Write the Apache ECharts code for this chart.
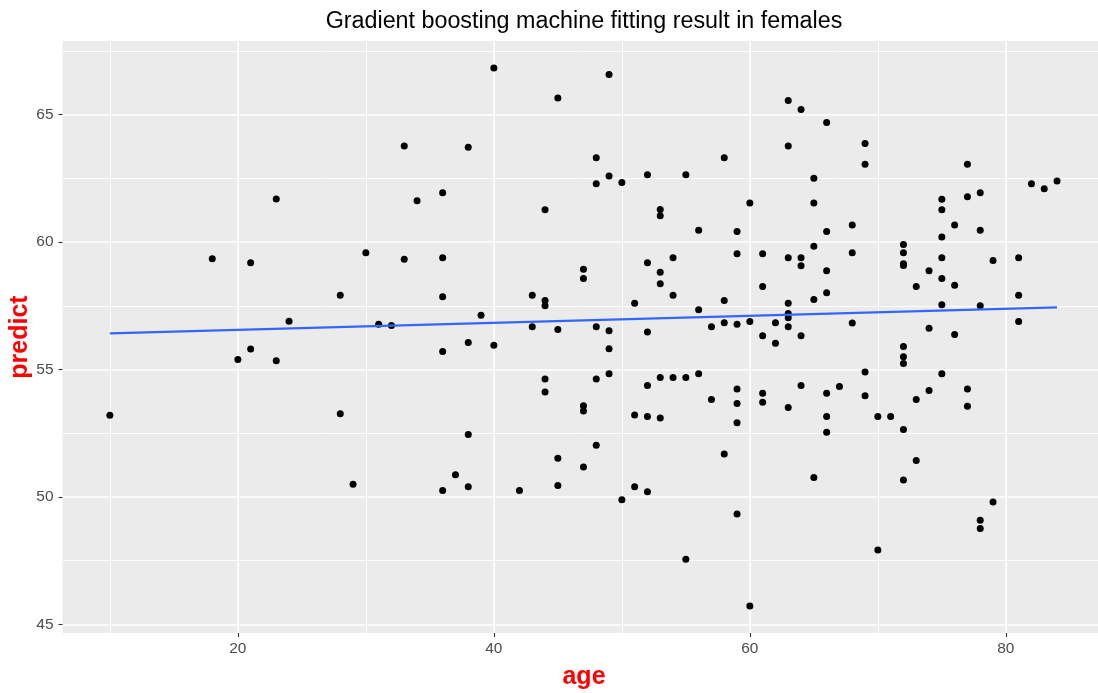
<!DOCTYPE html>
<html><head><meta charset="utf-8">
<script src="https://cdn.jsdelivr.net/npm/echarts@6/dist/echarts.min.js"></script>
<style>html,body{margin:0;padding:0;background:#fff}#c{width:1098px;height:693px}</style>
</head><body><div id="c"></div>
<script>
// Ages (x) and the predicted values observed at each age
const ageGroups = [10,18,20,21,23,24,28,29,30,31,32,33,34,36,37,38,39,40,42,43,44,45,47,48,49,50,51,52,53,54,55,56,57,58,59,60,61,62,63,64,65,66,67,68,69,70,71,72,73,74,75,76,77,78,79,81,82,83,84];
const predictGroups = [
  [53.20],
  [59.35],
  [55.39],
  [59.19, 55.80],
  [61.69, 55.34],
  [56.89],
  [57.91, 53.26],
  [50.50],
  [59.58],
  [56.78],
  [56.73],
  [63.77, 59.33],
  [61.62],
  [61.94, 59.38, 57.85, 55.71, 50.25],
  [50.87],
  [63.72, 56.06, 52.45, 50.40],
  [57.13],
  [66.83, 55.95],
  [50.25],
  [57.91, 56.68],
  [61.27, 57.71, 57.50, 54.63, 54.12],
  [65.65, 56.57, 51.52, 50.45],
  [58.93, 58.57, 53.58, 53.37, 51.17],
  [63.31, 62.29, 56.68, 54.63, 52.03],
  [66.58, 62.59, 56.52, 55.81, 54.83],
  [62.34, 49.89],
  [57.60, 53.21, 50.40],
  [62.64, 59.19, 56.47, 54.37, 53.16, 50.20],
  [61.28, 61.03, 58.82, 58.36, 54.69, 53.10],
  [59.38, 57.91, 54.69],
  [62.64, 54.69, 47.55],
  [60.46, 57.34, 54.83],
  [56.68, 53.82],
  [63.31, 57.71, 56.83, 51.68],
  [60.41, 59.54, 56.78, 54.23, 53.67, 52.91, 49.33],
  [61.53, 56.88, 45.72],
  [59.54, 58.26, 56.32, 54.07, 53.71],
  [56.83, 56.03],
  [65.56, 63.77, 59.38, 57.60, 57.20, 57.03, 56.68, 53.51],
  [65.20, 59.38, 59.07, 56.32, 54.37],
  [62.50, 61.53, 59.84, 57.75, 50.76],
  [64.69, 60.41, 58.87, 58.01, 54.07, 53.16, 52.54],
  [54.33],
  [60.67, 59.58, 56.82],
  [63.87, 63.05, 54.90, 53.97],
  [53.16, 47.92],
  [53.16],
  [59.90, 59.58, 59.15, 59.08, 55.90, 55.50, 55.24, 52.65, 50.66],
  [58.26, 53.82, 51.43],
  [58.87, 56.62, 54.18],
  [61.68, 61.27, 60.20, 59.38, 58.57, 57.54, 54.83],
  [60.67, 58.31, 56.37],
  [63.05, 61.78, 54.23, 53.56],
  [61.94, 60.46, 57.50, 49.08, 48.76],
  [59.28, 49.80],
  [59.38, 57.91, 56.88],
  [62.29],
  [62.09],
  [62.40]
];
// Fitted linear smooth (at its two ends)
const smoothAge = [10, 84];
const smoothPredict = [56.42, 57.44];
// Tick values
const xMajorTicks = [20, 40, 60, 80];
const xMinorTicks = [10, 30, 50, 70];
const yMajorTicks = [45, 50, 55, 60, 65];
const yMinorTicks = [47.5, 52.5, 57.5, 62.5, 67.5];

const points = [];
ageGroups.forEach((a, i) => predictGroups[i].forEach(p => points.push([a, p])));
const smooth = smoothAge.map((a, i) => [a, smoothPredict[i]]);

const FONT = 'Liberation Sans, Arial, sans-serif';
const X_MIN = 6.3, X_MAX = 87.2, Y_MIN = 44.66, Y_MAX = 67.89;

function mkX(ticks, major) {
  return {
    type: 'value', min: X_MIN, max: X_MAX, gridIndex: 0, position: 'bottom',
    axisLine: { show: false },
    axisTick: { show: major, length: 4, customValues: ticks, lineStyle: { color: '#333333', width: 1.1 } },
    axisLabel: { show: major, customValues: ticks, color: '#4D4D4D', fontSize: 15.5, fontFamily: FONT, margin: 8 },
    splitLine: { show: true, lineStyle: { color: '#FFFFFF', width: major ? 1.6 : 0.9 } }
  };
}
function mkY(ticks, major) {
  return {
    type: 'value', min: Y_MIN, max: Y_MAX, gridIndex: 0, position: 'left',
    axisLine: { show: false },
    axisTick: { show: major, length: 4, customValues: ticks, lineStyle: { color: '#333333', width: 1.1 } },
    axisLabel: { show: major, customValues: ticks, color: '#4D4D4D', fontSize: 15.5, fontFamily: FONT, margin: 9 },
    splitLine: { show: true, lineStyle: { color: '#FFFFFF', width: major ? 1.6 : 0.9 } }
  };
}

const chart = echarts.init(document.getElementById('c'), null, { renderer: 'canvas' });
chart.setOption({
  animation: false,
  backgroundColor: '#FFFFFF',
  grid: { left: 62.5, right: 0, top: 41, bottom: 60, show: true, backgroundColor: '#EBEBEB', borderWidth: 0 },
  xAxis: [mkX(xMinorTicks, false), mkX(xMajorTicks, true)],
  yAxis: [mkY(yMinorTicks, false), mkY(yMajorTicks, true)],
  series: [
    { type: 'scatter', xAxisIndex: 1, yAxisIndex: 1, data: points, symbol: 'circle', symbolSize: 7,
      itemStyle: { color: '#000000', opacity: 1 }, z: 2 },
    { type: 'line', xAxisIndex: 1, yAxisIndex: 1, data: smooth, showSymbol: false, symbol: 'none',
      lineStyle: { color: '#3366FF', width: 2.3 }, z: 3 }
  ],
  graphic: [
    { type: 'text', x: 584, y: 22, style: { text: 'Gradient boosting machine fitting result in females',
      fill: '#000000', font: '23.3px ' + FONT, textAlign: 'center', textVerticalAlign: 'middle' } },
    { type: 'text', x: 584, y: 677, style: { text: 'age', fill: '#FF0000', font: 'bold 25px ' + FONT,
      textAlign: 'center', textVerticalAlign: 'middle' } },
    { type: 'text', x: 20, y: 337, rotation: Math.PI / 2, style: { text: 'predict', fill: '#FF0000',
      font: 'bold 25px ' + FONT, textAlign: 'center', textVerticalAlign: 'middle' } }
  ]
});
</script>
</body></html>
